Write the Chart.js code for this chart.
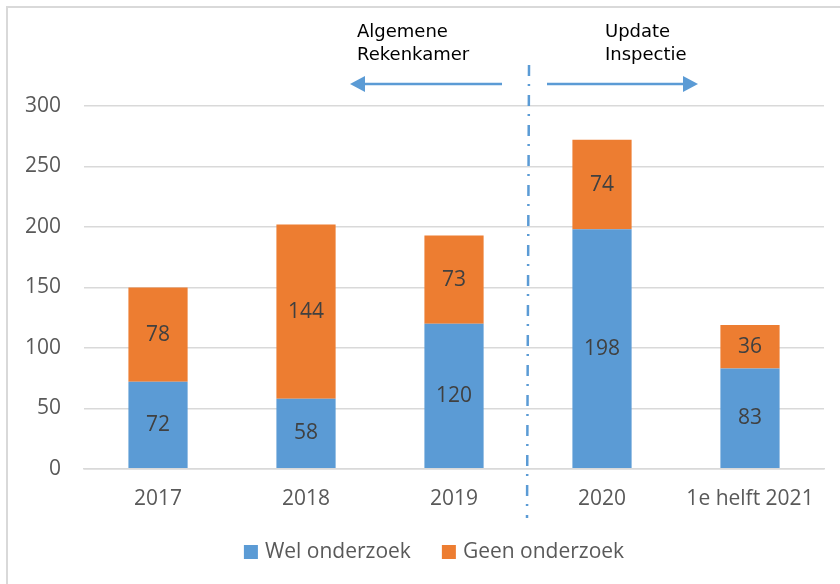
<!DOCTYPE html>
<html>
<head>
<meta charset="utf-8">
<script src="https://cdn.jsdelivr.net/npm/chart.js@4/dist/chart.umd.min.js"></script>
<style>
  html, body { margin: 0; padding: 0; background: #fff; }
  #wrap { position: relative; width: 840px; height: 584px; }
  #frame {
    position: absolute; left: 6px; top: 6px; width: 900px; height: 700px;
    border-top: 2px solid #d9d9d9; border-left: 2px solid #d9d9d9;
    pointer-events: none;
  }
</style>
</head>
<body>
<div id="wrap">
  <canvas id="chart" width="840" height="584"></canvas>
  <div id="frame"></div>
</div>
<script>
// Data
const years = ['2017', '2018', '2019', '2020', '1e helft 2021'];
const welOnderzoek = [72, 58, 120, 198, 83];
const geenOnderzoek = [78, 144, 73, 74, 36];
const yTicks = [0, 50, 100, 150, 200, 250, 300];

const BLUE = '#5B9BD5';
const ORANGE = '#ED7D31';
const TEXT = '#595959';
const FONT = '21px "Open Sans"';

// Writes the value of each segment in the middle of its bar
const barLabels = {
  id: 'barLabels',
  afterDatasetsDraw(chart) {
    const ctx = chart.ctx;
    ctx.save();
    ctx.font = FONT;
    ctx.fillStyle = '#404040';
    ctx.textAlign = 'center';
    ctx.textBaseline = 'middle';
    chart.data.datasets.forEach((ds, i) => {
      chart.getDatasetMeta(i).data.forEach((bar, j) => {
        ctx.fillText(ds.data[j], bar.x, (bar.y + bar.base) / 2);
      });
    });
    ctx.restore();
  }
};

// Excel-style legend: small square, tight gap, wide spacing between items
const bottomLegend = {
  id: 'bottomLegend',
  afterDraw(chart) {
    const ctx = chart.ctx;
    const box = 14, gap = 7, spacing = 31, y = 552;
    ctx.save();
    ctx.font = FONT;
    ctx.textBaseline = 'middle';
    ctx.textAlign = 'left';
    const items = chart.data.datasets.map(ds => ({
      text: ds.label, color: ds.backgroundColor, w: ctx.measureText(ds.label).width
    }));
    const total = items.reduce((s, it) => s + box + gap + it.w, 0) + spacing * (items.length - 1);
    let x = 434 - total / 2;
    items.forEach(it => {
      ctx.fillStyle = it.color;
      ctx.fillRect(x, y - box / 2, box, box);
      ctx.fillStyle = TEXT;
      ctx.fillText(it.text, x + box + gap, y);
      x += box + gap + it.w + spacing;
    });
    ctx.restore();
  }
};

function arrow(ctx, x1, x2, y) {
  const dir = Math.sign(x2 - x1);
  ctx.beginPath();
  ctx.moveTo(x1, y);
  ctx.lineTo(x2 - dir * 12, y);
  ctx.stroke();
  ctx.beginPath();
  ctx.moveTo(x2, y);
  ctx.lineTo(x2 - dir * 15, y - 8);
  ctx.lineTo(x2 - dir * 15, y + 8);
  ctx.closePath();
  ctx.fill();
}

// Divider between 2019 and 2020 with the two arrows and captions
const divider = {
  id: 'divider',
  afterDraw(chart) {
    const ctx = chart.ctx;
    const x = chart.scales.x.getPixelForValue(2.5);
    const y = 84;
    ctx.save();
    ctx.strokeStyle = BLUE;
    ctx.fillStyle = BLUE;
    ctx.lineWidth = 2.5;
    ctx.setLineDash([11, 8, 2, 9]);
    ctx.beginPath();
    ctx.moveTo(x + 1, 65);
    ctx.lineTo(x - 1, 518);
    ctx.stroke();
    ctx.setLineDash([]);
    arrow(ctx, x - 26, x - 178, y);
    arrow(ctx, x + 19, x + 170, y);

    ctx.fillStyle = '#000';
    ctx.font = '18px "DejaVu Sans"';
    ctx.textAlign = 'left';
    ctx.textBaseline = 'alphabetic';
    ctx.fillText('Algemene', x - 171, 37);
    ctx.fillText('Rekenkamer', x - 171, 60);
    ctx.fillText('Update', x + 77, 37);
    ctx.fillText('Inspectie', x + 77, 60);
    ctx.restore();
  }
};

new Chart(document.getElementById('chart'), {
  type: 'bar',
  data: {
    labels: years,
    datasets: [
      { label: 'Wel onderzoek', data: welOnderzoek, backgroundColor: BLUE },
      { label: 'Geen onderzoek', data: geenOnderzoek, backgroundColor: ORANGE }
    ]
  },
  options: {
    responsive: false,
    animation: false,
    events: [],
    layout: { padding: { left: 2, right: 16, top: 106, bottom: 54 } },
    datasets: { bar: { categoryPercentage: 1, barPercentage: 0.4 } },
    scales: {
      x: {
        stacked: true,
        grid: { display: false, drawTicks: false },
        border: { color: '#d9d9d9', width: 1.5 },
        ticks: { color: TEXT, font: { family: 'Open Sans', size: 21 }, padding: 18, maxRotation: 0 }
      },
      y: {
        stacked: true,
        min: 0,
        max: 300,
        afterBuildTicks: (axis) => { axis.ticks = yTicks.map(v => ({ value: v })); },
        grid: { color: '#d9d9d9', lineWidth: 1.5, drawTicks: false },
        border: { display: false },
        ticks: { color: TEXT, font: { family: 'Open Sans', size: 21 }, padding: 23 }
      }
    },
    plugins: {
      legend: { display: false },
      tooltip: { enabled: false }
    }
  },
  plugins: [barLabels, divider, bottomLegend]
});
</script>
</body>
</html>
